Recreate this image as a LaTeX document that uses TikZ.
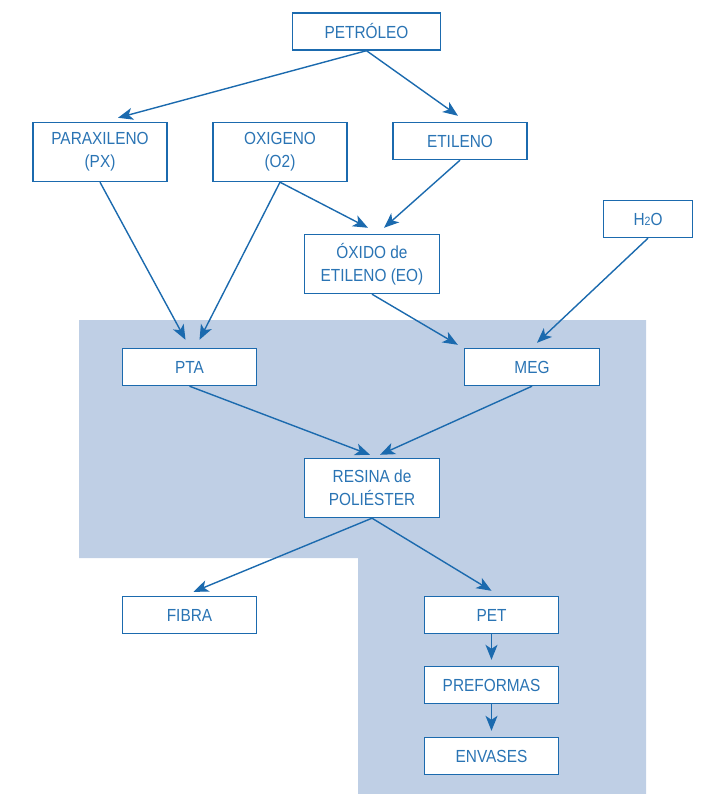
\documentclass[tikz,border=0pt]{standalone}
\usepackage{fontspec}
\setmainfont[FakeStretch=0.88]{Liberation Sans}
\usetikzlibrary{arrows.meta}
\definecolor{lineblue}{HTML}{1B6AAE}
\definecolor{textblue}{HTML}{2A74B4}
\definecolor{fondo}{HTML}{BFCFE5}

\begin{document}
\begin{tikzpicture}[x=1pt, y=-1pt,
			internal/.style={draw=lineblue, fill=white, line width=1.4pt, rectangle, minimum width=134pt, minimum height=37pt, inner sep=4pt, text=textblue, font=\fontsize{17.5}{23}\selectfont},
			every text node part/.style={align=center},
			flecha/.style={draw=lineblue, line width=1.4pt, -{Stealth[length=15pt, width=12pt, inset=4pt]}}]
			\useasboundingbox (0,0) rectangle (711,794);
			\fill[fondo] (79,320) -- (646,320) -- (646,794) -- (358,794) -- (358,558) -- (79,558) -- cycle;
			
			\node[internal, minimum width=148pt](node1) at (366.5, 31.5) {PETRÓLEO};
			
			\node[internal, minimum height=59pt](node2) at (100, 152) {PARAXILENO \\ (PX)};
			\draw[flecha] (node1.south) -- ([xshift=18pt, yshift=4pt]node2.north);
			
			\node[internal, minimum height=59pt](node3) at (280, 152) {OXIGENO \\ (O2)};
			
			\node[internal](node4) at (460, 141) {ETILENO};
			\draw[flecha] (node1.south) -- ([xshift=-2pt, yshift=6pt]node4.north);
			
			\node[internal, minimum width=135pt, minimum height=59pt](node5) at (372, 264) {ÓXIDO de \\ ETILENO (EO)};
			\draw[flecha] (node3.south) -- ([xshift=-4pt, yshift=6pt]node5.north);
			\draw[flecha] (node4.south) -- ([xshift=12pt, yshift=6pt]node5.north);
			
			\node[internal, minimum width=89pt](node6) at (648, 219) {H{\fontsize{12}{12}\selectfont 2}O};
			
			\node[internal](node7) at (189.5, 367) {PTA};
			\draw[flecha] (node2.south) -- ([xshift=-4pt, yshift=8pt]node7.north);
			\draw[flecha] (node3.south) -- ([xshift=10pt, yshift=8pt]node7.north);
			
			\node[internal, minimum width=135pt](node8) at (532, 367) {MEG};
			\draw[flecha] (node5.south) -- ([xshift=-6pt, yshift=3pt]node8.north west);
			\draw[flecha] (node6.south) -- ([xshift=5pt, yshift=5pt]node8.north);
			
			\node[internal, minimum width=135pt, minimum height=59pt](node9) at (372, 488) {RESINA de \\ POLIÉSTER};
			\draw[flecha] (node7.south) -- ([xshift=-2pt, yshift=3pt]node9.north);
			\draw[flecha] (node8.south) -- ([xshift=8pt, yshift=3pt]node9.north);
			
			\node[internal](node10) at (189.5, 615) {FIBRA};
			\draw[flecha] (node9.south) -- ([xshift=4pt, yshift=4pt]node10.north);
			
			\node[internal](node11) at (491.5, 615) {PET};
			\draw[flecha] (node9.south) -- ([yshift=5pt]node11.north);
			
			\node[internal](node12) at (491.5, 685) {PREFORMAS};
			\draw[flecha] (node11.south) -- ([yshift=6pt]node12.north);
			
			\node[internal](node13) at (491.5, 756) {ENVASES};
			\draw[flecha] (node12.south) -- ([yshift=6pt]node13.north);
			\end{tikzpicture}
\end{document}
